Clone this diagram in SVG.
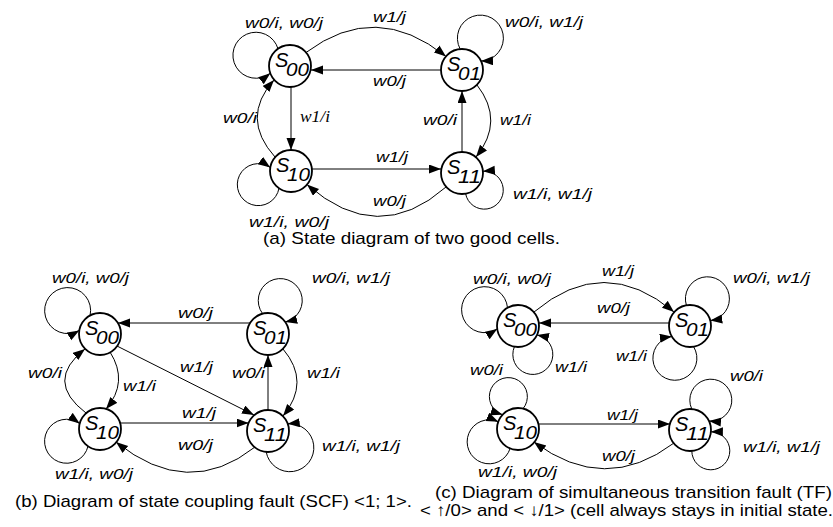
<svg xmlns="http://www.w3.org/2000/svg" width="833" height="527" viewBox="0 0 833 527">
<defs>
<marker id="ah" markerWidth="13" markerHeight="10" refX="12" refY="4.5" orient="auto" markerUnits="userSpaceOnUse"><path d="M0,0 L12,4.5 L0,9 z" fill="#000"/></marker>
<style>
.n circle{fill:#fff;stroke:#000;stroke-width:1.8}
.e{fill:none;stroke:#000;stroke-width:1;marker-end:url(#ah)}
.st{font-family:"Liberation Sans",Arial,sans-serif;font-style:italic;font-size:20px;fill:#000}
.sb{font-family:"Liberation Sans",Arial,sans-serif;font-style:italic;font-size:19px;fill:#000}
.l{font-family:"Liberation Sans",Arial,sans-serif;font-style:italic;font-size:15px;fill:#000}
.ls{font-family:"Liberation Serif","Times New Roman",serif;font-style:italic;font-size:16px;fill:#000}
.cap{font-family:"Liberation Sans",Arial,sans-serif;font-size:17px;fill:#000}
</style>
</defs>
<rect width="833" height="527" fill="#fff"/>

<g id="connectors">
<!-- panel a -->
<path class="e" d="M278,48.8 A23,23 0 1,0 270.3,73.2"/>
<path class="e" d="M306,52.5 Q376,0 446,56.5"/>
<path class="e" d="M441,70 L311,70"/>
<path class="e" d="M460.2,49.1 A23,23 0 1,1 481,61.1"/>
<path class="e" d="M291,87 L291,150"/>
<path class="e" d="M275,157 Q240,118 274,80"/>
<path class="e" d="M279,188.2 A21,21 0 1,1 270.3,167.4"/>
<path class="e" d="M312,169 L441,169"/>
<path class="e" d="M446,187 Q378,247 307,184.5"/>
<path class="e" d="M462,152 L462,91"/>
<path class="e" d="M477,85 Q505,121 476,157"/>
<path class="e" d="M465.6,193.7 A19,19 0 1,0 482.9,171.2"/>
<!-- panel b -->
<path class="e" d="M90.1,315.5 A23,23 0 1,0 79.3,330.4"/>
<path class="e" d="M262.6,313.7 A22,22 0 1,1 285.2,322"/>
<path class="e" d="M250,323 L118,323"/>
<path class="e" d="M117,346 L254,415"/>
<path class="e" d="M110,352 Q129,382 106,409"/>
<path class="e" d="M86,413 Q44,381 85,349"/>
<path class="e" d="M268,410 L268,355"/>
<path class="e" d="M283,349 Q311,382 283,416"/>
<path class="e" d="M120,423 L248.6,423"/>
<path class="e" d="M255,447 Q188,500 116,442"/>
<path class="e" d="M88,446.2 A22,22 0 1,1 79.7,423.6"/>
<path class="e" d="M266.2,451.9 A24,24 0 1,0 287.7,423.8"/>
<!-- panel c -->
<path class="e" d="M507.5,307.8 A23,23 0 1,0 497.2,328.9"/>
<path class="e" d="M514.4,346.7 A20,20 0 1,0 537,334.9"/>
<path class="e" d="M534,312 Q604,253 674,312"/>
<path class="e" d="M669,323 L539,323"/>
<path class="e" d="M686.4,305.3 A22,22 0 1,1 710.3,320.6"/>
<path class="e" d="M693.6,346.7 A22,22 0 1,1 671.8,336.5"/>
<path class="e" d="M523.1,408.6 A19,19 0 1,0 502.6,414.7"/>
<path class="e" d="M510.1,448.5 A22,22 0 1,1 498.3,421.8"/>
<path class="e" d="M538,424 L670,424"/>
<path class="e" d="M674,443 Q605,495 534,442"/>
<path class="e" d="M691.8,409.1 A21,21 0 1,1 709,421.1"/>
<path class="e" d="M691.8,450.9 A19,19 0 1,0 710.9,431.8"/>
</g>

<g id="labels">
<text class="l" x="245" y="28" textLength="78" lengthAdjust="spacingAndGlyphs">w0/i, w0/j</text>
<text class="l" x="373" y="22" textLength="33" lengthAdjust="spacingAndGlyphs">w1/j</text>
<text class="l" x="505" y="27" textLength="78" lengthAdjust="spacingAndGlyphs">w0/i, w1/j</text>
<text class="l" x="373" y="86" textLength="33" lengthAdjust="spacingAndGlyphs">w0/j</text>
<text class="l" x="223" y="123" textLength="34" lengthAdjust="spacingAndGlyphs">w0/i</text>
<text class="ls" x="300" y="122" textLength="30" lengthAdjust="spacingAndGlyphs">w1/i</text>
<text class="l" x="423" y="125" textLength="34" lengthAdjust="spacingAndGlyphs">w0/i</text>
<text class="l" x="500" y="125" textLength="31" lengthAdjust="spacingAndGlyphs">w1/i</text>
<text class="l" x="376" y="162" textLength="32" lengthAdjust="spacingAndGlyphs">w1/j</text>
<text class="l" x="373" y="206" textLength="33" lengthAdjust="spacingAndGlyphs">w0/j</text>
<text class="l" x="249" y="227" textLength="80" lengthAdjust="spacingAndGlyphs">w1/i, w0/j</text>
<text class="l" x="513" y="199" textLength="79" lengthAdjust="spacingAndGlyphs">w1/i, w1/j</text>

<text class="l" x="52" y="283" textLength="77" lengthAdjust="spacingAndGlyphs">w0/i, w0/j</text>
<text class="l" x="312" y="283" textLength="78" lengthAdjust="spacingAndGlyphs">w0/i, w1/j</text>
<text class="l" x="178" y="318" textLength="35" lengthAdjust="spacingAndGlyphs">w0/j</text>
<text class="l" x="180" y="372" textLength="33" lengthAdjust="spacingAndGlyphs">w1/j</text>
<text class="l" x="28" y="378" textLength="34" lengthAdjust="spacingAndGlyphs">w0/i</text>
<text class="l" x="123" y="391" textLength="33" lengthAdjust="spacingAndGlyphs">w1/i</text>
<text class="l" x="232" y="378" textLength="33" lengthAdjust="spacingAndGlyphs">w0/i</text>
<text class="l" x="307" y="378" textLength="33" lengthAdjust="spacingAndGlyphs">w1/i</text>
<text class="l" x="182" y="418" textLength="34" lengthAdjust="spacingAndGlyphs">w1/j</text>
<text class="l" x="178" y="450" textLength="35" lengthAdjust="spacingAndGlyphs">w0/j</text>
<text class="l" x="55" y="479" textLength="78" lengthAdjust="spacingAndGlyphs">w1/i, w0/j</text>
<text class="l" x="322" y="451" textLength="78" lengthAdjust="spacingAndGlyphs">w1/i, w1/j</text>

<text class="l" x="473" y="284" textLength="78" lengthAdjust="spacingAndGlyphs">w0/i, w0/j</text>
<text class="l" x="602" y="276" textLength="32" lengthAdjust="spacingAndGlyphs">w1/j</text>
<text class="l" x="733" y="283" textLength="77" lengthAdjust="spacingAndGlyphs">w0/i, w1/j</text>
<text class="l" x="597" y="313" textLength="33" lengthAdjust="spacingAndGlyphs">w0/j</text>
<text class="l" x="555" y="372" textLength="32" lengthAdjust="spacingAndGlyphs">w1/i</text>
<text class="l" x="616" y="361" textLength="31" lengthAdjust="spacingAndGlyphs">w1/i</text>
<text class="l" x="470" y="375" textLength="33" lengthAdjust="spacingAndGlyphs">w0/i</text>
<text class="l" x="730" y="381" textLength="33" lengthAdjust="spacingAndGlyphs">w0/i</text>
<text class="l" x="607" y="420" textLength="31" lengthAdjust="spacingAndGlyphs">w1/j</text>
<text class="l" x="602" y="461" textLength="33" lengthAdjust="spacingAndGlyphs">w0/j</text>
<text class="l" x="478" y="477" textLength="79" lengthAdjust="spacingAndGlyphs">w1/i, w0/j</text>
<text class="l" x="743" y="452" textLength="77" lengthAdjust="spacingAndGlyphs">w1/i, w1/j</text>
</g>

<g id="a-s00" class="n"><circle cx="290" cy="66" r="21"/><text class="st" x="275" y="67">S</text><text class="sb" x="286" y="76" textLength="23" lengthAdjust="spacingAndGlyphs">00</text></g>
<g id="a-s01" class="n"><circle cx="462" cy="70" r="21"/><text class="st" x="447" y="71">S</text><text class="sb" x="458" y="80" textLength="23" lengthAdjust="spacingAndGlyphs">01</text></g>
<g id="a-s10" class="n"><circle cx="291" cy="171" r="21"/><text class="st" x="276" y="172">S</text><text class="sb" x="287" y="181" textLength="23" lengthAdjust="spacingAndGlyphs">10</text></g>
<g id="a-s11" class="n"><circle cx="462" cy="173" r="21"/><text class="st" x="447" y="174">S</text><text class="sb" x="458" y="183" textLength="23" lengthAdjust="spacingAndGlyphs">11</text></g>

<g id="b-s00" class="n"><circle cx="100" cy="334" r="21"/><text class="st" x="85" y="335">S</text><text class="sb" x="96" y="344" textLength="23" lengthAdjust="spacingAndGlyphs">00</text></g>
<g id="b-s01" class="n"><circle cx="268" cy="334" r="21"/><text class="st" x="253" y="335">S</text><text class="sb" x="264" y="344" textLength="23" lengthAdjust="spacingAndGlyphs">01</text></g>
<g id="b-s10" class="n"><circle cx="100" cy="429" r="21"/><text class="st" x="85" y="430">S</text><text class="sb" x="96" y="439" textLength="23" lengthAdjust="spacingAndGlyphs">10</text></g>
<g id="b-s11" class="n"><circle cx="268" cy="431" r="21"/><text class="st" x="253" y="432">S</text><text class="sb" x="264" y="441" textLength="23" lengthAdjust="spacingAndGlyphs">11</text></g>

<g id="c-s00" class="n"><circle cx="518" cy="326" r="21"/><text class="st" x="503" y="327">S</text><text class="sb" x="514" y="336" textLength="23" lengthAdjust="spacingAndGlyphs">00</text></g>
<g id="c-s01" class="n"><circle cx="690" cy="326" r="21"/><text class="st" x="675" y="327">S</text><text class="sb" x="686" y="336" textLength="23" lengthAdjust="spacingAndGlyphs">01</text></g>
<g id="c-s10" class="n"><circle cx="518" cy="429" r="21"/><text class="st" x="503" y="430">S</text><text class="sb" x="514" y="439" textLength="23" lengthAdjust="spacingAndGlyphs">10</text></g>
<g id="c-s11" class="n"><circle cx="690" cy="430" r="21"/><text class="st" x="675" y="431">S</text><text class="sb" x="686" y="440" textLength="23" lengthAdjust="spacingAndGlyphs">11</text></g>

<g id="captions">
<text class="cap" x="263" y="244" textLength="297" lengthAdjust="spacingAndGlyphs">(a) State diagram of two good cells.</text>
<text class="cap" x="15" y="507" textLength="397" lengthAdjust="spacingAndGlyphs">(b) Diagram of state coupling fault (SCF) &lt;1; 1&gt;.</text>
<text class="cap" x="435" y="498" textLength="397" lengthAdjust="spacingAndGlyphs">(c) Diagram of simultaneous transition fault (TF)</text>
<text class="cap" x="420" y="516" textLength="413" lengthAdjust="spacingAndGlyphs">&lt; ↑/0&gt; and &lt; ↓/1&gt; (cell always stays in initial state.</text>
</g>
</svg>
